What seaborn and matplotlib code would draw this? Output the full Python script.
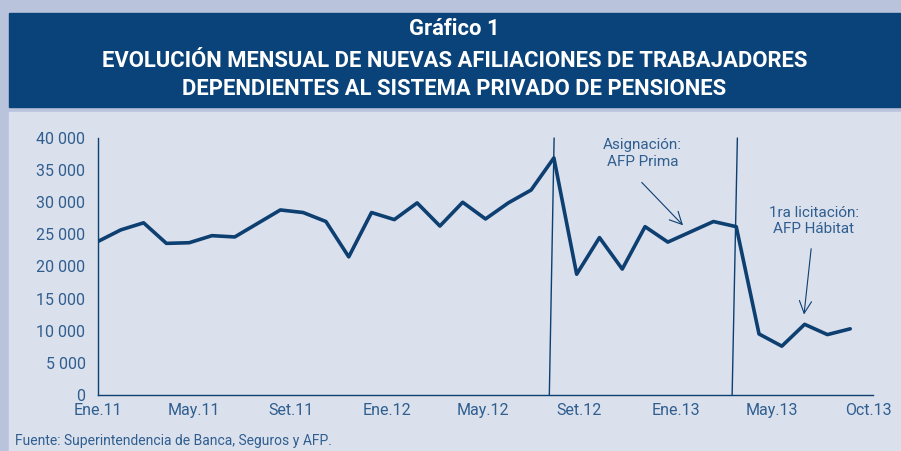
import numpy as np
import pandas as pd
import matplotlib
matplotlib.use("Agg")
import matplotlib.pyplot as plt
from matplotlib.patches import Rectangle
import seaborn as sns

# monthly new affiliations, Ene.11 .. Oct.13
afiliaciones = [23900, 25700, 26800, 23600, 23700, 24800, 24600, 26700,
                28800, 28400, 27000, 21500, 28400, 27300, 29900, 26300,
                30000, 27400, 29900, 31900, 36900, 18800, 24500, 19600,
                26200, 23800, 25400, 27000, 26200, 9500, 7600, 11000,
                9400, 10300]
tick_labels = ["Ene.11", "May.11", "Set.11", "Ene.12", "May.12",
               "Set.12", "Ene.13", "May.13", "Oct.13"]
y_ticks = [0, 5000, 10000, 15000, 20000, 25000, 30000, 35000, 40000]
# event markers (slightly slanted lines in the original)
evento_x = [(19.8, 20.01), (27.82, 28.05)]

navy = "#0d3f71"
text_blue = "#2f5e8f"
outer_bg = "#b9c3dc"
panel_bg = "#dbe0ed"
title_bg = "#0a4379"

sns.set_style("white")
plt.rcParams["font.family"] = ["Roboto", "DejaVu Sans"]

df = pd.DataFrame({"mes": np.arange(len(afiliaciones)), "afiliaciones": afiliaciones})

fig = plt.figure(figsize=(9.01, 4.51), dpi=100, facecolor=outer_bg)
fig.patches.append(Rectangle((9 / 901, 0), 1, (451 - 112) / 451,
                             transform=fig.transFigure, color=panel_bg, zorder=-2))
fig.patches.append(Rectangle((9 / 901, 1 - 107 / 451), 1, 94 / 451,
                             transform=fig.transFigure, color=title_bg, zorder=-2))

for yy, txt in [(29, "Gráfico 1"),
                (61, "EVOLUCIÓN MENSUAL DE NUEVAS AFILIACIONES DE TRABAJADORES"),
                (89, "DEPENDIENTES AL SISTEMA PRIVADO DE PENSIONES")]:
    fig.text(0.5 + 4 / 901, 1 - yy / 451, txt, ha="center", va="center",
             color="white", fontsize=15.8, fontweight="bold")

ax = fig.add_axes([98 / 901, 56 / 451, 775 / 901, 257 / 451])
ax.set_facecolor("none")

sns.lineplot(data=df, x="mes", y="afiliaciones", ax=ax, color=navy, lw=2.6)

for x0, x1 in evento_x:
    ax.plot([x0, x1], [0, 40000], color=navy, lw=1.0, clip_on=False)

ax.set_xlim(0, 34)
ax.set_ylim(0, 40000)
ax.set_xticks(np.linspace(0, 33.8, len(tick_labels)))
ax.set_xticklabels(tick_labels)
ax.set_yticks(y_ticks)
ax.set_yticklabels([f"{v:,}".replace(",", " ") for v in y_ticks])
ax.set_xlabel("")
ax.set_ylabel("")

for side in ["top", "right"]:
    ax.spines[side].set_visible(False)
for side in ["left", "bottom"]:
    ax.spines[side].set_color(navy)
    ax.spines[side].set_linewidth(1.0)
ax.tick_params(axis="y", direction="out", length=5, width=1, color=navy,
               labelcolor=text_blue, labelsize=11.5, pad=4)
ax.tick_params(axis="x", direction="inout", length=7, width=1, color=navy,
               labelcolor=text_blue, labelsize=11.5, pad=2)

ax.text(23.9, 37600, "Asignación:\nAFP Prima", ha="center", va="center",
        color=text_blue, fontsize=11, linespacing=1.25)
ax.annotate("", xy=(25.75, 26100), xytext=(23.77, 33400),
            arrowprops=dict(arrowstyle="->", color=navy, lw=0.8, mutation_scale=22))
ax.text(31.4, 27100, "1ra licitación:\nAFP Hábitat", ha="center", va="center",
        color=text_blue, fontsize=11, linespacing=1.25)
ax.annotate("", xy=(30.96, 12100), xytext=(31.3, 23200),
            arrowprops=dict(arrowstyle="->", color=navy, lw=0.8, mutation_scale=22))

fig.text(15 / 901, 1 - 441 / 451, "Fuente: Superintendencia de Banca, Seguros y AFP.",
         ha="left", va="center", color=text_blue, fontsize=10)

fig.savefig("out.png", dpi=100, facecolor=outer_bg)
